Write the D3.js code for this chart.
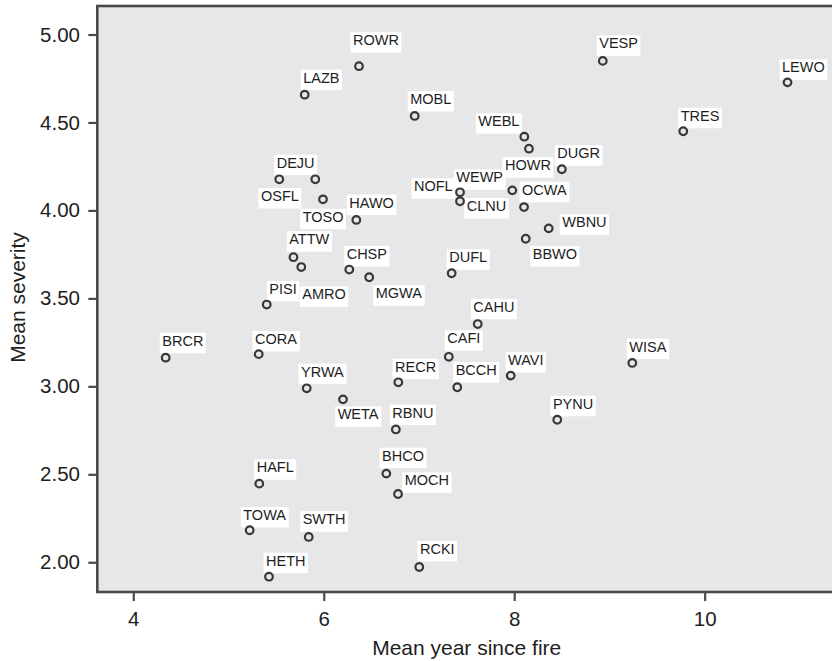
<!DOCTYPE html>
<html><head><meta charset="utf-8">
<script src="https://cdn.jsdelivr.net/npm/d3@7"></script>
<style>
body{margin:0;background:#fff}
text{font-family:"Liberation Sans",Arial,Helvetica,sans-serif}
</style>
</head><body>
<svg id="chart" width="832" height="661"></svg>
<script>
// ---- data ----
const species = ["ROWR","LAZB","MOBL","VESP","LEWO","TRES","WEBL","HOWR","DUGR","WEWP","OCWA","NOFL","CLNU","DEJU","OSFL","TOSO","HAWO","WBNU","BBWO","ATTW","AMRO","CHSP","MGWA","DUFL","PISI","CAHU","BRCR","CORA","CAFI","WAVI","WISA","YRWA","RECR","BCCH","WETA","RBNU","PYNU","HAFL","BHCO","MOCH","TOWA","SWTH","HETH","RCKI"];
const meanYearSinceFire = [6.37,5.80,6.955,8.93,10.87,9.775,8.106,8.155,8.50,7.98,8.103,7.431,7.431,5.911,5.533,5.992,6.342,8.362,8.121,5.682,5.764,6.268,6.477,7.343,5.401,7.617,4.34,5.317,7.313,7.963,9.24,5.821,6.783,7.402,6.202,6.757,8.452,5.323,6.657,6.78,5.222,5.842,5.425,7.003];
const meanSeverity = [4.82,4.658,4.537,4.85,4.728,4.45,4.419,4.351,4.234,4.114,4.019,4.103,4.052,4.177,4.177,4.063,3.946,3.898,3.839,3.734,3.678,3.664,3.62,3.643,3.465,3.354,3.163,3.183,3.168,3.061,3.133,2.989,3.023,2.995,2.926,2.755,2.81,2.447,2.504,2.388,2.182,2.144,1.918,1.973];
const xTickValues = [4,6,8,10];
const yTickValues = [2.0,2.5,3.0,3.5,4.0,4.5,5.0];
const xTitle = "Mean year since fire";
const yTitle = "Mean severity";

// ---- label placement (layout only: text-left / baseline offset from the point, px) ----
const labelOffsets = {
  ROWR:[-6,-21], LAZB:[-1.5,-12], MOBL:[-4.5,-12], VESP:[-3.5,-12.5], LEWO:[-5.5,-10], TRES:[-2.5,-10.5],
  WEBL:[-46,-10.5], HOWR:[-24,21.5], DUGR:[-4.5,-11], WEWP:[-56,-8], OCWA:[-2,-12.3], NOFL:[-46,-1],
  CLNU:[6.7,9.7], DEJU:[-38.6,-11.6], OSFL:[-18.3,21.7], TOSO:[-20.3,22.4], HAWO:[-7,-12.3], WBNU:[13.6,-1],
  BBWO:[7,20.3], ATTW:[-4.2,-13], AMRO:[1,32.3], CHSP:[-2.6,-10.5], MGWA:[6.5,21], DUFL:[-2.4,-11],
  PISI:[2.6,-10.5], CAHU:[-4.4,-12.3], BRCR:[-3.4,-12], CORA:[-3.7,-10.2], CAFI:[-1.5,-13.5], WAVI:[-2.7,-10.7],
  WISA:[-3,-11.3], YRWA:[-5.7,-11.6], RECR:[-3.3,-10.6], BCCH:[-1.6,-12.2], WETA:[-5.3,20], RBNU:[-3.5,-11.8],
  PYNU:[-4.3,-11], HAFL:[-2.6,-11.4], BHCO:[-4.3,-13], MOCH:[6.7,-8.7], TOWA:[-6.4,-10.3], SWTH:[-6,-12.7],
  HETH:[-3,-11], RCKI:[0.7,-13]
};

const points = species.map((s,i)=>({name:s, x:meanYearSinceFire[i], y:meanSeverity[i]}));

// ---- layout ----
const svg = d3.select("#chart");
const plotLeft = 97.3, plotTop = 6, plotBottom = 592;
const xScale = d3.scaleLinear().domain([3.622, 11.4]).range([plotLeft, plotLeft + (11.4-3.622)*95.23]);
const yScale = d3.scaleLinear().domain([1.831, 5.162]).range([plotBottom, plotTop]);

const axisColor = "#4a4a4a";
const textColor = "#1e1e1e";

// plot background
svg.append("rect")
  .attr("x", xScale(3.622)).attr("y", yScale(5.162))
  .attr("width", xScale(11.4)-xScale(3.622)).attr("height", yScale(1.831)-yScale(5.162))
  .attr("fill", "#e7e7e9").attr("stroke", axisColor).attr("stroke-width", 2.6);

// axes
const yAxis = svg.append("g").attr("transform", `translate(${plotLeft},0)`)
  .call(d3.axisLeft(yScale).tickValues(yTickValues).tickFormat(d3.format(".2f")).tickSize(9).tickPadding(8.3));
const xAxis = svg.append("g").attr("transform", `translate(0,${plotBottom})`)
  .call(d3.axisBottom(xScale).tickValues(xTickValues).tickFormat(d3.format("d")).tickSize(9).tickPadding(10));
[xAxis, yAxis].forEach(g=>{
  g.select(".domain").remove();
  g.selectAll(".tick line").attr("stroke", axisColor).attr("stroke-width", 2.2);
  g.selectAll(".tick text").attr("fill", textColor).style("font-size","20.5px");
});

// axis titles
svg.append("text").attr("x", 466.7).attr("y", 655).attr("text-anchor","middle")
  .attr("fill", textColor).style("font-size","21px").text(xTitle);
svg.append("text").attr("transform","translate(24.5,297.5) rotate(-90)").attr("text-anchor","middle")
  .attr("fill", textColor).style("font-size","21px").text(yTitle);

// labels
const labelG = svg.append("g");
points.forEach(p=>{
  const off = labelOffsets[p.name] || [-3,-11];
  const g = labelG.append("g");
  const t = g.append("text")
    .attr("x", xScale(p.x)+off[0]).attr("y", yScale(p.y)+off[1])
    .attr("fill", textColor).style("font-size","14.5px").text(p.name);
  const bb = t.node().getBBox();
  g.insert("rect","text").attr("x", bb.x-2.5).attr("y", bb.y).attr("width", bb.width+5).attr("height", bb.height+4.5)
    .attr("fill","#fff");
});

// points
svg.append("g").selectAll("circle").data(points).join("circle")
  .attr("cx", d=>xScale(d.x)).attr("cy", d=>yScale(d.y)).attr("r", 3.8)
  .attr("fill","none").attr("stroke","#383838").attr("stroke-width", 2.2);
</script>
</body></html>
